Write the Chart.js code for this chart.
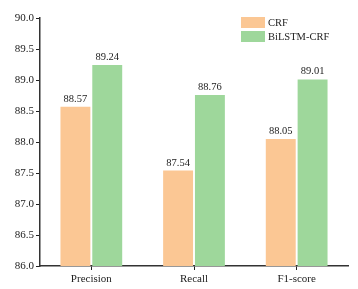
<!DOCTYPE html>
<html lang="en">
<head>
    <meta charset="UTF-8">
    <title>CRF vs BiLSTM-CRF</title>
    <script src="https://cdn.jsdelivr.net/npm/chart.js"></script>
    <style>
        body { margin: 0; background: #fff; }
        #wrap { width: 358px; height: 289px; }
    </style>
</head>
<body>
    <div id="wrap">
        <canvas id="myBarChart" width="358" height="289"></canvas>
    </div>
    <script>
const categories = ['Precision', 'Recall', 'F1-score'];
const seriesNames = ['CRF', 'BiLSTM-CRF'];
const crfValues = [88.57, 87.54, 88.05];
const bilstmValues = [89.24, 88.76, 89.01];
const yTicks = [86.0, 86.5, 87.0, 87.5, 88.0, 88.5, 89.0, 89.5, 90.0];

const serif = '"Liberation Serif", "Times New Roman", serif';
const colors = ['#fbc794', '#9ed79b'];

// value labels above each bar
const valueLabels = {
    id: 'valueLabels',
    afterDatasetsDraw(chart) {
        const ctx = chart.ctx;
        ctx.save();
        ctx.font = '10.5px ' + serif;
        ctx.fillStyle = '#222';
        ctx.textAlign = 'center';
        ctx.textBaseline = 'alphabetic';
        chart.data.datasets.forEach((ds, i) => {
            chart.getDatasetMeta(i).data.forEach((bar, j) => {
                ctx.fillText(ds.data[j].toFixed(2), bar.x, bar.y - 5);
            });
        });
        ctx.restore();
    }
};

// stacked legend in the top right corner
const boxLegend = {
    id: 'boxLegend',
    afterDraw(chart) {
        const ctx = chart.ctx;
        const x0 = 241, y0 = 17, rowH = 14;
        ctx.save();
        ctx.font = '10.5px ' + serif;
        ctx.textBaseline = 'middle';
        chart.data.datasets.forEach((ds, i) => {
            const y = y0 + i * rowH;
            ctx.fillStyle = ds.backgroundColor;
            ctx.fillRect(x0, y, 24, 11);
            ctx.fillStyle = '#222';
            ctx.fillText(ds.label, x0 + 27, y + 6);
        });
        ctx.restore();
    }
};

new Chart(document.getElementById('myBarChart'), {
    type: 'bar',
    data: {
        labels: categories,
        datasets: [
            { label: seriesNames[0], data: crfValues, backgroundColor: colors[0] },
            { label: seriesNames[1], data: bilstmValues, backgroundColor: colors[1] }
        ]
    },
    options: {
        responsive: false,
        animation: false,
        layout: { padding: { top: 18, right: 10, left: 0, bottom: 0 } },
        datasets: { bar: { categoryPercentage: 0.62, barPercentage: 0.94 } },
        plugins: {
            legend: { display: false },
            tooltip: { enabled: false }
        },
        scales: {
            x: {
                grid: { display: true, offset: false, drawOnChartArea: false, drawTicks: true, tickLength: 4, tickColor: '#222' },
                border: { display: true, color: '#333', width: 1.5 },
                ticks: { color: '#222', font: { family: serif, size: 11 }, padding: 3 },
                afterFit(scale) { scale.height = 23; }
            },
            y: {
                min: 86,
                max: 90,
                afterBuildTicks(scale) { scale.ticks = yTicks.map(v => ({ value: v })); },
                grid: { display: true, drawOnChartArea: false, drawTicks: true, tickLength: 4, tickColor: '#222' },
                border: { display: true, color: '#333', width: 1.5 },
                ticks: {
                    color: '#222',
                    font: { family: serif, size: 11 },
                    padding: 2,
                    callback: v => Number(v).toFixed(1)
                },
                afterFit(scale) { scale.width = 40; }
            }
        }
    },
    plugins: [valueLabels, boxLegend]
});
    </script>
</body>
</html>
